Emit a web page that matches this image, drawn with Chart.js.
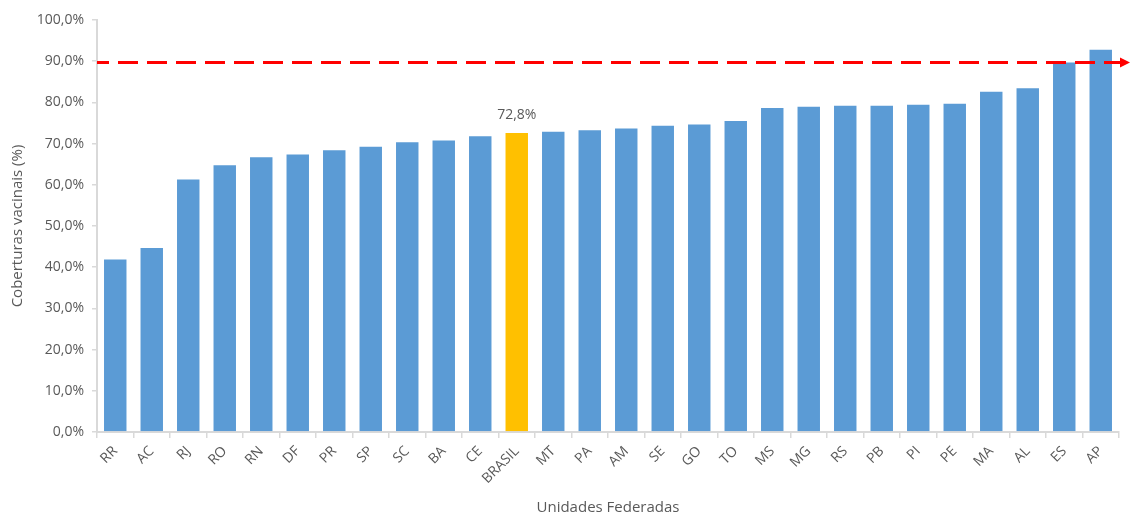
<!DOCTYPE html>
<html>
<head>
<meta charset="utf-8">
<script src="https://cdn.jsdelivr.net/npm/chart.js@4"></script>
<style>
  html, body { margin: 0; padding: 0; background: #ffffff; }
  #wrap { width: 1131px; height: 513px; position: relative; }
</style>
</head>
<body>
<div id="wrap"><canvas id="c" width="1131" height="513"></canvas></div>
<script>
const categories = ["RR","AC","RJ","RO","RN","DF","PR","SP","SC","BA","CE","BRASIL","MT","PA","AM","SE","GO","TO","MS","MG","RS","PB","PI","PE","MA","AL","ES","AP"];
const coverage = [42.1,44.9,61.5,65.0,66.9,67.6,68.6,69.5,70.6,71.0,72.0,72.8,73.1,73.5,73.9,74.6,74.9,75.7,78.9,79.2,79.4,79.4,79.7,79.9,82.8,83.7,89.9,93.0];
const highlightCategory = "BRASIL";
const goalValue = 89.7;
const yTicks = [0,10,20,30,40,50,60,70,80,90,100];

const fmt = v => v.toFixed(1).replace('.', ',') + '%';
const TEXT = '#595959';
const AXIS = '#d9d9d9';
const FONT = "'Open Sans', sans-serif";

const barColors = categories.map(c => c === highlightCategory ? '#FFC000' : '#5B9BD5');

const overlay = {
  id: 'overlay',
  afterDatasetsDraw(chart) {
    const ctx = chart.ctx;
    const y = chart.scales.y;
    const x = chart.scales.x;
    const area = chart.chartArea;
    const idx = categories.indexOf(highlightCategory);
    const bx = x.getPixelForValue(idx);
    const by = y.getPixelForValue(coverage[idx]);
    ctx.save();
    ctx.fillStyle = TEXT;
    ctx.font = "14px " + FONT;
    ctx.textAlign = 'center';
    ctx.textBaseline = 'middle';
    ctx.fillText(fmt(coverage[idx]), bx, by - 17);
    const gy = y.getPixelForValue(goalValue);
    const tipX = chart.width - 1;
    const headLen = 10;
    ctx.strokeStyle = '#FF0000';
    ctx.lineWidth = 3;
    ctx.setLineDash([20, 9]);
    ctx.lineDashOffset = 8;
    ctx.beginPath();
    ctx.moveTo(area.left, gy);
    ctx.lineTo(tipX - headLen, gy);
    ctx.stroke();
    ctx.setLineDash([]);
    ctx.fillStyle = '#FF0000';
    ctx.beginPath();
    ctx.moveTo(tipX, gy);
    ctx.lineTo(tipX - headLen, gy - 5);
    ctx.lineTo(tipX - headLen, gy + 5);
    ctx.closePath();
    ctx.fill();
    ctx.restore();
  }
};

new Chart(document.getElementById('c'), {
  type: 'bar',
  data: {
    labels: categories,
    datasets: [{
      data: coverage,
      backgroundColor: barColors,
      borderColor: 'rgba(255,255,255,0.5)',
      borderWidth: 1,
      barPercentage: 0.67,
      categoryPercentage: 1.0
    }]
  },
  options: {
    responsive: false,
    animation: false,
    devicePixelRatio: 1,
    layout: { padding: { left: 0, right: 12, top: 20, bottom: 0 } },
    plugins: { legend: { display: false }, tooltip: { enabled: false } },
    scales: {
      x: {
        grid: { offset: true, drawOnChartArea: false, color: AXIS, tickLength: 6, lineWidth: 1.5 },
        border: { color: AXIS, width: 2 },
        ticks: { color: TEXT, font: { family: FONT, size: 14 }, minRotation: 45, maxRotation: 45, autoSkip: false, padding: 5 },
        title: { display: true, text: 'Unidades Federadas', color: TEXT, font: { family: FONT, size: 15 }, padding: { top: 0, bottom: -4 } },
        afterFit(scale) { scale.height = 81; }
      },
      y: {
        min: 0, max: 100,
        afterBuildTicks(scale) { scale.ticks = yTicks.map(v => ({ value: v })); },
        grid: { drawOnChartArea: false, color: AXIS, tickLength: 5, lineWidth: 1.5 },
        border: { color: AXIS, width: 2 },
        ticks: { color: TEXT, font: { family: FONT, size: 14 }, padding: 8, callback: v => fmt(v) },
        title: { display: true, text: 'Coberturas vacinais (%)', color: TEXT, font: { family: FONT, size: 15 }, padding: { top: 9, bottom: 0 } },
        afterFit(scale) { scale.width = 97; }
      }
    }
  },
  plugins: [overlay]
});
</script>
</body>
</html>
